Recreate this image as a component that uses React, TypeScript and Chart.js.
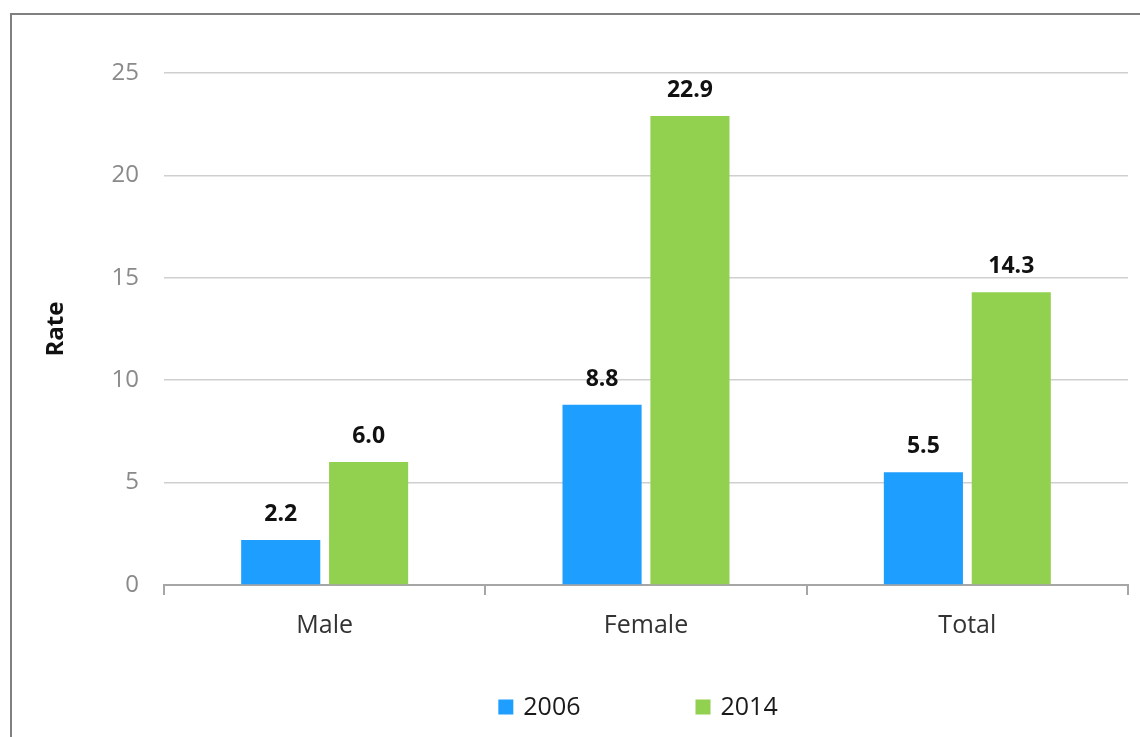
import React, { useEffect, useRef } from "react";
import { Chart, registerables } from "chart.js";

Chart.register(...registerables);

const categories = ["Male", "Female", "Total"];
const seriesLabels = ["2006", "2014"];
const values2006 = [2.2, 8.8, 5.5];
const values2014 = [6.0, 22.9, 14.3];
const yTicks = [0, 5, 10, 15, 20, 25];

const BLUE = "#1E9EFF";
const GREEN = "#92D050";
const FONT = "'Open Sans', 'Noto Sans', sans-serif";

const valueLabelPlugin = {
  id: "valueLabels",
  afterDatasetsDraw(chart: any) {
    const ctx = chart.ctx;
    ctx.save();
    ctx.font = `bold 23px ${FONT}`;
    ctx.fillStyle = "#111111";
    ctx.textAlign = "center";
    ctx.textBaseline = "alphabetic";
    chart.data.datasets.forEach((ds: any, di: number) => {
      const meta = chart.getDatasetMeta(di);
      meta.data.forEach((el: any, i: number) => {
        const v = ds.data[i];
        ctx.fillText(Number(v).toFixed(1), el.x, el.y - 19);
      });
    });
    ctx.restore();
  },
};

const legendPlugin = {
  id: "customLegend",
  afterDraw(chart: any) {
    const ctx = chart.ctx;
    const ca = chart.chartArea;
    ctx.save();
    ctx.font = `25px ${FONT}`;
    ctx.textBaseline = "middle";
    ctx.textAlign = "left";
    const box = 15;
    const gap = 10;
    const spacing = 115;
    const items = chart.data.datasets.map((ds: any) => ({
      text: ds.label,
      color: ds.backgroundColor,
      w: box + gap + ctx.measureText(ds.label).width,
    }));
    const total = items.reduce((s: number, it: any) => s + it.w, 0) + spacing * (items.length - 1);
    let x = (ca.left + ca.right) / 2 - total / 2 - 8;
    const y = 707;
    items.forEach((it: any) => {
      ctx.fillStyle = it.color;
      ctx.fillRect(x, y - box / 2, box, box);
      ctx.fillStyle = "#1a1a1a";
      ctx.fillText(it.text, x + box + gap, y + 1);
      x += it.w + spacing;
    });
    ctx.restore();
  },
};

export default function App() {
  const canvasRef = useRef<HTMLCanvasElement | null>(null);

  useEffect(() => {
    if (!canvasRef.current) return;
    const chart = new Chart(canvasRef.current, {
      type: "bar",
      data: {
        labels: categories,
        datasets: [
          {
            label: seriesLabels[0],
            data: values2006,
            backgroundColor: BLUE,
            categoryPercentage: 0.547,
            barPercentage: 0.9,
          },
          {
            label: seriesLabels[1],
            data: values2014,
            backgroundColor: GREEN,
            categoryPercentage: 0.547,
            barPercentage: 0.9,
          },
        ],
      },
      options: {
        responsive: false,
        animation: false,
        layout: { padding: { top: 73, right: 12, left: 0, bottom: 0 } },
        plugins: {
          legend: { display: false },
          tooltip: { enabled: false },
        },
        scales: {
          x: {
            grid: {
              offset: true,
              drawOnChartArea: false,
              drawTicks: true,
              tickLength: 10,
              color: "#a6a6a6",
              lineWidth: 2,
            },
            border: { display: true, color: "#a6a6a6", width: 2 },
            ticks: {
              color: "#333333",
              font: { family: FONT, size: 25 },
              padding: 16,
            },
            afterFit(scale: any) {
              scale.height = 152;
            },
          },
          y: {
            min: 0,
            max: 25,
            afterBuildTicks(scale: any) {
              scale.ticks = yTicks.map((v) => ({ value: v }));
            },
            grid: {
              drawTicks: false,
              color: "#cfcfcf",
              lineWidth: 1.5,
            },
            border: { display: false },
            ticks: {
              color: "#8a8a8a",
              font: { family: FONT, size: 24 },
              padding: 25,
            },
            title: {
              display: true,
              text: "Rate",
              color: "#111111",
              font: { family: FONT, size: 24, weight: "bold" },
              padding: { top: 42, bottom: 0 },
            },
            afterFit(scale: any) {
              scale.width = 164;
            },
          },
        },
      },
      plugins: [valueLabelPlugin, legendPlugin],
    });
    return () => chart.destroy();
  }, []);

  return (
    <div
      style={{
        position: "fixed",
        left: 0,
        top: 0,
        width: 1140,
        height: 737,
        overflow: "hidden",
        background: "#ffffff",
      }}
    >
      <canvas
        ref={canvasRef}
        width={1140}
        height={737}
        style={{ position: "absolute", left: 0, top: 0, width: 1140, height: 737 }}
      />
      <div
        style={{
          position: "absolute",
          left: 10,
          top: 13,
          width: 2000,
          height: 2000,
          borderTop: "2px solid #808080",
          borderLeft: "2px solid #808080",
          pointerEvents: "none",
        }}
      />
    </div>
  );
}
